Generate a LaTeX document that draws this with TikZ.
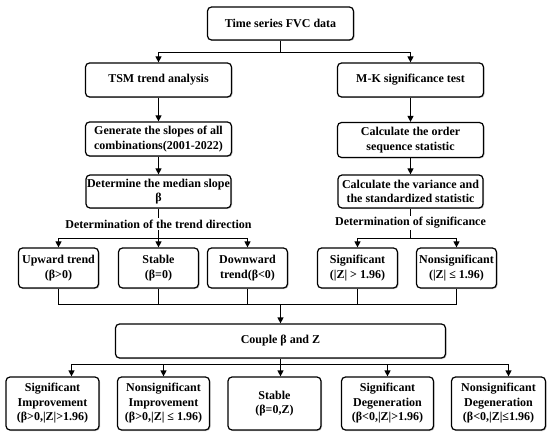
\documentclass[tikz,border=0pt]{standalone}
\usepackage{fontspec}
\setmainfont{Liberation Serif}
\usetikzlibrary{arrows.meta,shadows}

\begin{document}
\begin{tikzpicture}[x=1pt,y=-1pt,
	every node/.style={font=\bfseries\fontsize{12}{14.5}\selectfont},
	box/.style={draw,rounded corners=4pt,line width=1.2pt,align=center,inner sep=0pt,fill=white,
		drop shadow={shadow xshift=1pt,shadow yshift=-1pt,fill=black!45}},
	arr/.style={-{Triangle[length=6pt,width=6pt]}},
	line width=1.2pt]
	\useasboundingbox (0,0) rectangle (550,436);

	\node[box,minimum width=146pt,minimum height=33pt] (top) at (280.5,23.5) {Time series FVC data};
	\node[box,minimum width=146pt,minimum height=34pt] (tsm) at (158.5,80) {TSM trend analysis};
	\node[box,minimum width=146pt,minimum height=34pt] (mk) at (410.5,80) {M-K significance test};
	\node[box,minimum width=146pt,minimum height=34pt] (gen) at (158.5,139) {Generate the slopes of all\\combinations(2001-2022)};
	\node[box,minimum width=146pt,minimum height=35pt] (ord) at (410.5,140) {Calculate the order\\sequence statistic};
	\node[box,minimum width=145pt,minimum height=33pt] (med) at (158.5,191.5) {Determine the median slope\\β};
	\node[box,minimum width=145pt,minimum height=33pt] (var) at (410.5,191.5) {Calculate the variance and\\the standardized statistic};

	\node[fill=white,inner sep=1pt] (lt) at (158.5,224) {Determination of the trend direction};
	\node[fill=white,inner sep=1pt] (ls) at (410.5,223) {Determination of significance};

	\node[box,minimum width=80pt,minimum height=40pt] (up) at (58.5,268) {Upward trend\\(β>0)};
	\node[box,minimum width=80pt,minimum height=40pt] (st) at (158.5,268) {Stable\\(β=0)};
	\node[box,minimum width=80pt,minimum height=40pt] (dn) at (247.5,268) {Downward\\trend(β<0)};
	\node[box,minimum width=80pt,minimum height=40pt] (sg) at (357.5,268) {Significant\\(|Z| > 1.96)};
	\node[box,minimum width=80pt,minimum height=40pt] (ns) at (456.5,268) {Nonsignificant\\(|Z| ≤ 1.96)};

	\node[box,minimum width=330pt,minimum height=34pt] (cpl) at (280.5,341) {Couple β and Z};

	\node[box,minimum width=93pt,minimum height=53pt] (r1) at (52.5,403.5) {Significant\\Improvement\\(β>0,|Z|>1.96)};
	\node[box,minimum width=92pt,minimum height=53pt] (r2) at (163.5,403.5) {Nonsignificant\\Improvement\\(β>0,|Z| ≤ 1.96)};
	\node[box,minimum width=93pt,minimum height=53pt] (r3) at (274.5,403.5) {Stable\\(β=0,Z)};
	\node[box,minimum width=92pt,minimum height=53pt] (r4) at (387.5,403.5) {Significant\\Degeneration\\(β<0,|Z|>1.96)};
	\node[box,minimum width=94pt,minimum height=53pt] (r5) at (498.5,403.5) {Nonsignificant\\Degeneration\\(β<0,|Z|≤1.96)};

	\coordinate (j0) at (280.5,52.5);
	\coordinate (j1) at (158.5,238.5);
	\coordinate (j2) at (410.5,238.5);
	\coordinate (j3) at (280.5,304.5);
	\coordinate (j4) at (280.5,364.5);

	\draw (top) -- (j0);
	\draw[arr] (j0) -| (tsm);
	\draw[arr] (j0) -| (mk);
	\draw[arr] (tsm) -- (gen);
	\draw[arr] (gen) -- (med);
	\draw[arr] (mk) -- (ord);
	\draw[arr] (ord) -- (var);

	\draw (med) -- (lt) -- (j1);
	\draw (var) -- (ls) -- (j2);
	\draw[arr] (j1) -| (up);
	\draw[arr] (j1) -- (st);
	\draw[arr] (j1) -| (dn);
	\draw[arr] (j2) -| (sg);
	\draw[arr] (j2) -| (ns);

	\draw (up) |- (j3);
	\draw (st.south) -- (st.south |- j3);
	\draw (dn) |- (j3);
	\draw (sg) |- (j3);
	\draw (ns) |- (j3);
	\draw[arr] (j3) -- (cpl);

	\draw (cpl) -- (j4);
	\draw[arr] (j4) -| ([xshift=19pt]r1.north);
	\draw[arr] (j4) -| (r2);
	\draw[arr] (j4) -| ([xshift=6pt]r3.north);
	\draw[arr] (j4) -| (r4);
	\draw[arr] (j4) -| ([xshift=10pt]r5.north);
\end{tikzpicture}
\end{document}
